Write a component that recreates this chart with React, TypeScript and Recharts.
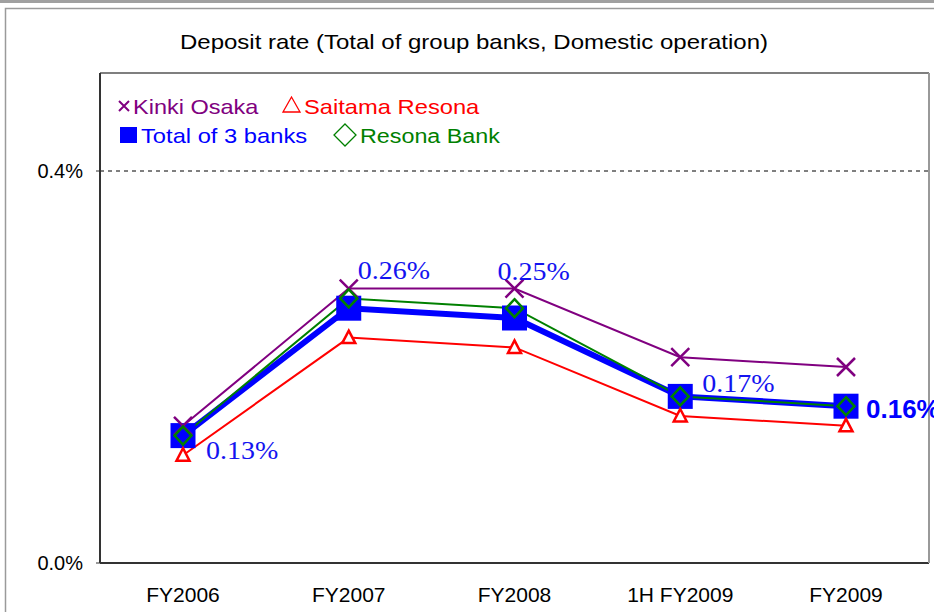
import React from 'react';
import { LineChart, Line, XAxis, YAxis, ReferenceLine, LabelList, Customized } from 'recharts';

const categories = ['FY2006', 'FY2007', 'FY2008', '1H FY2009', 'FY2009'];
const kinkiOsaka = [0.14, 0.28, 0.28, 0.21, 0.2];
const saitamaResona = [0.11, 0.23, 0.22, 0.15, 0.14];
const totalOf3Banks = [0.13, 0.26, 0.25, 0.17, 0.16];
const resonaBank = [0.13, 0.27, 0.26, 0.17, 0.16];
const yTicks = [0, 0.4];
const gridValue = 0.4;
const yDomain = [0, 0.5];
const seriesNames = ['Kinki Osaka', 'Saitama Resona', 'Total of 3 banks', 'Resona Bank'];
const title = 'Deposit rate (Total of group banks, Domestic operation)';

const data = categories.map((c, i) => ({
  category: c,
  kinki: kinkiOsaka[i],
  saitama: saitamaResona[i],
  total: totalOf3Banks[i],
  resona: resonaBank[i],
}));

const PURPLE = '#800080';
const RED = '#ff0000';
const BLUE = '#0000ff';
const GREEN = '#008000';
const SANS = '"Liberation Sans", Arial, sans-serif';
const SERIF = '"Liberation Serif", "Times New Roman", serif';

const SText = ({ x, y, sx = 1, anchor = 'start', children, ...rest }: any) => (
  <text transform={`translate(${x},${y}) scale(${sx},1)`} x={0} y={0} textAnchor={anchor} {...rest}>
    {children}
  </text>
);

const CrossDot = (p: any) => {
  const { cx, cy, index } = p;
  if (cx == null || cy == null) return <g key={`x-${index}`} />;
  const r = 9;
  return (
    <g key={`x-${index}`}>
      <path d={`M${cx - r},${cy - r}L${cx + r},${cy + r}M${cx - r},${cy + r}L${cx + r},${cy - r}`} stroke={PURPLE} strokeWidth={2.5} fill="none" />
    </g>
  );
};

const TriDot = (p: any) => {
  const { cx, cy, index } = p;
  if (cx == null || cy == null) return <g key={`t-${index}`} />;
  return (
    <path key={`t-${index}`} d={`M${cx},${cy - 7}L${cx + 6.5},${cy + 5.5}L${cx - 6.5},${cy + 5.5}Z`} stroke={RED} strokeWidth={2.5} fill="#fff" />
  );
};

const SquareDot = (p: any) => {
  const { cx, cy, index } = p;
  if (cx == null || cy == null) return <g key={`s-${index}`} />;
  const h = 12.5;
  return <rect key={`s-${index}`} x={cx - h} y={cy - h} width={2 * h} height={2 * h} fill={BLUE} />;
};

const DiamondDot = (p: any) => {
  const { cx, cy, index } = p;
  if (cx == null || cy == null) return <g key={`d-${index}`} />;
  return (
    <path key={`d-${index}`} d={`M${cx},${cy - 9}L${cx + 8.5},${cy}L${cx},${cy + 9}L${cx - 8.5},${cy}Z`} stroke={GREEN} strokeWidth={2.5} fill="none" />
  );
};

// label placement (style) for each point of the total series
const labelPlacement = [
  { dx: 23, dy: 23, bold: false },
  { dx: 9, dy: -29, bold: false },
  { dx: -17, dy: -38, bold: false },
  { dx: 22, dy: -4, bold: false },
  { dx: 20, dy: 12, bold: true },
];

const TotalLabel = (p: any) => {
  const { x, y, value, index } = p;
  const pl = labelPlacement[index] || labelPlacement[0];
  const txt = `${value.toFixed(2)}%`;
  if (pl.bold) {
    return (
      <text x={x + pl.dx} y={y + pl.dy} fill={BLUE} fontFamily={SANS} fontWeight="bold" fontSize={26}>
        {txt}
      </text>
    );
  }
  return (
    <SText x={x + pl.dx} y={y + pl.dy} sx={1.12} fill="#1414f0" fontFamily={SERIF} fontSize={25}>
      {txt}
    </SText>
  );
};

const XTick = (p: any) => {
  const { x, y, payload } = p;
  return (
    <text x={x} y={y + 39} textAnchor="middle" fontFamily={SANS} fontSize={21} fill="#000">
      {payload.value}
    </text>
  );
};

const YTick = (p: any) => {
  const { x, y, payload } = p;
  return (
    <text x={x} y={y} dy="0.355em" textAnchor="end" fontFamily={SANS} fontSize={20} fill="#000">
      {`${Number(payload.value).toFixed(1)}%`}
    </text>
  );
};

const Decorations = () => (
  <g>
    <rect x={0} y={0} width={934} height={3} fill="#a0a0a0" />
    <path d="M5.5,612V8.5H934" stroke="#9a9a9a" strokeWidth={1.5} fill="none" />
    <SText x={474} y={49} sx={1.2} anchor="middle" fontFamily={SANS} fontSize={20} fill="#000">
      {title}
    </SText>
    {/* legend */}
    <path d="M119,101L129,111M119,111L129,101" stroke={PURPLE} strokeWidth={2} />
    <SText x={133} y={114} sx={1.12} fontFamily={SANS} fontSize={21} fill={PURPLE}>{seriesNames[0]}</SText>
    <path d="M291.5,97L300,112L283,112Z" stroke={RED} strokeWidth={1.3} fill="none" />
    <SText x={304} y={114} sx={1.13} fontFamily={SANS} fontSize={21} fill={RED}>{seriesNames[1]}</SText>
    <rect x={120} y={127} width={17} height={16} fill={BLUE} />
    <SText x={141} y={143} sx={1.13} fontFamily={SANS} fontSize={21} fill={BLUE}>{seriesNames[2]}</SText>
    <path d="M345,124L356,135L345,146L334,135Z" stroke={GREEN} strokeWidth={1.3} fill="none" />
    <SText x={360} y={143} sx={1.11} fontFamily={SANS} fontSize={21} fill={GREEN}>{seriesNames[3]}</SText>
  </g>
);

export default function App() {
  return (
    <div style={{ position: 'absolute', left: 0, top: 0, width: 934, height: 612, background: '#fff', overflow: 'hidden' }}>
      <LineChart width={934} height={612} data={data} margin={{ top: 72, right: 4, bottom: 9, left: 40 }}>
        <Customized component={Decorations} />
        <XAxis
          dataKey="category"
          height={40}
          padding={{ left: 83, right: 83 }}
          tickLine={false}
          tickSize={0}
          tickMargin={0}
          axisLine={{ stroke: '#333', strokeWidth: 2 }}
          tick={<XTick />}
          interval={0}
        />
        <XAxis
          xAxisId="top"
          dataKey="category"
          orientation="top"
          height={1}
          padding={{ left: 83, right: 83 }}
          tick={false}
          tickLine={false}
          axisLine={{ stroke: '#555', strokeWidth: 1.5 }}
        />
        <YAxis
          width={60}
          type="number"
          domain={yDomain}
          ticks={yTicks}
          tickSize={4}
          tickMargin={13}
          tickLine={{ stroke: '#333' }}
          axisLine={{ stroke: '#333', strokeWidth: 2 }}
          tick={<YTick />}
        />
        <YAxis
          yAxisId="right"
          orientation="right"
          width={1}
          type="number"
          domain={yDomain}
          tick={false}
          tickLine={false}
          axisLine={{ stroke: '#999', strokeWidth: 2 }}
        />
        <ReferenceLine y={gridValue} stroke="#000" strokeWidth={1} strokeDasharray="4 4" />
        <Line dataKey="total" stroke={BLUE} strokeWidth={6} dot={SquareDot} isAnimationActive={false}>
          <LabelList dataKey="total" content={TotalLabel} />
        </Line>
        <Line dataKey="saitama" stroke={RED} strokeWidth={2} dot={TriDot} isAnimationActive={false} />
        <Line dataKey="kinki" stroke={PURPLE} strokeWidth={2} dot={CrossDot} isAnimationActive={false} />
        <Line dataKey="resona" stroke={GREEN} strokeWidth={2} dot={DiamondDot} isAnimationActive={false} />
      </LineChart>
    </div>
  );
}
